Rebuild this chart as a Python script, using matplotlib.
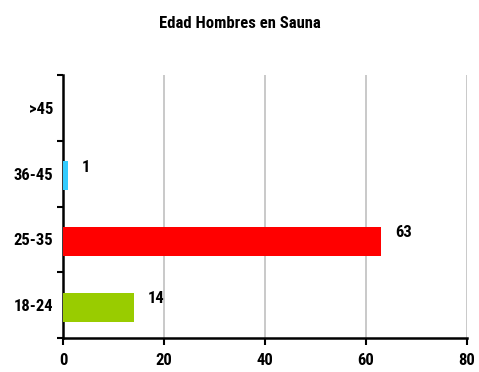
import matplotlib
matplotlib.use("Agg")
import matplotlib.pyplot as plt
from matplotlib import font_manager

categories = ["18-24", "25-35", "36-45", ">45"]
values = [14, 63, 1, 0]
colors = ["#99CC00", "#FF0000", "#33CCFF", "#999999"]
x_ticks = [0, 20, 40, 60, 80]

names = {f.name for f in font_manager.fontManager.ttflist}
family = next((n for n in ["Roboto Condensed", "PT Sans Narrow", "Liberation Sans"] if n in names),
              "DejaVu Sans")
plt.rcParams["font.family"] = [family, "DejaVu Sans"]
FS = 12

fig = plt.figure(figsize=(4.79, 3.72), dpi=100)
ax = fig.add_axes([63 / 479, 1 - 338 / 372, (467 - 63) / 479, (338 - 75) / 372])

pos = list(range(len(categories)))
ax.barh([p - 0.03 for p in pos], values, height=0.44, color=colors, zorder=3)
for p, v in zip(pos, values):
    if v > 0:
        ax.text(v + 2.8, p + 0.1, str(v), ha="left", va="center",
                fontsize=FS, fontweight="bold", zorder=4)

ax.set_xlim(0, 80)
ax.set_ylim(-0.5, len(categories) - 0.5)
ax.set_xticks(x_ticks)
ax.set_xticklabels([str(t) for t in x_ticks], fontsize=FS, fontweight="bold")
ax.set_yticks(pos)
ax.set_yticklabels(categories, fontsize=FS, fontweight="bold")
ax.tick_params(axis="y", length=0, pad=7)
ax.set_yticks([p - 0.5 for p in pos] + [len(categories) - 0.5], minor=True)
ax.tick_params(axis="y", which="minor", length=4, width=1.5, direction="out")
ax.tick_params(axis="x", length=5, width=1.5, direction="out", pad=6)

for t in x_ticks[1:]:
    ax.axvline(t, color="#c0c0c0", lw=1.2, zorder=1)

for s in ["top", "right"]:
    ax.spines[s].set_visible(False)
ax.spines["left"].set_linewidth(1.8)
ax.spines["bottom"].set_linewidth(1.8)

fig.text(0.5, 1 - 23 / 372, "Edad Hombres en Sauna", ha="center", va="center",
         fontsize=FS, fontweight="bold")

fig.savefig("out.png", dpi=100)
